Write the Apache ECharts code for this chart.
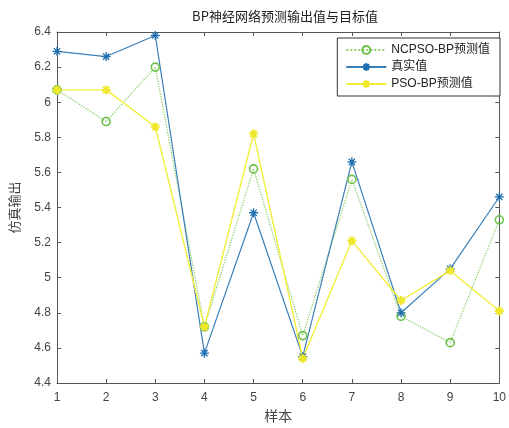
<!DOCTYPE html>
<html><head><meta charset="utf-8">
<script src="https://cdn.jsdelivr.net/npm/echarts@6/dist/echarts.min.js"></script>
<style>html,body{margin:0;padding:0;background:#fff}#c{width:509px;height:428px}</style>
</head><body><div id="c"></div>
<script>
const samples = [1,2,3,4,5,6,7,8,9,10];
const ncpsoValues = [6.07,5.89,6.20,4.72,5.62,4.67,5.56,4.78,4.63,5.33];
const realValues  = [6.29,6.26,6.38,4.57,5.37,4.55,5.66,4.80,5.05,5.46];
const psoValues   = [6.07,6.07,5.86,4.72,5.82,4.54,5.21,4.87,5.04,4.81];
const seriesNames = ['NCPSO-BP预测值','真实值','PSO-BP预测值'];

const star = 'path://M0,-5L0,5M-5,0L5,0M-3.5,-3.5L3.5,3.5M-3.5,3.5L3.5,-3.5';
const pairs = v => samples.map((s,i)=>[s,v[i]]);
const font = 'Liberation Sans, Arial, sans-serif';
const axisLine = {show:true, lineStyle:{color:'#555', width:1}};
const chart = echarts.init(document.getElementById('c'));
chart.setOption({
  animation:false,
  backgroundColor:'#fff',
  title:{text:'BP神经网络预测输出值与目标值', left:280, textAlign:'center', top:5,
    textStyle:{fontSize:13, fontWeight:'normal', color:'#222', fontFamily:'Noto Sans CJK SC, sans-serif'}},
  grid:{left:57, right:6, top:32, bottom:45},
  legend:{
    data:seriesNames, orient:'vertical', right:9, top:38,
    backgroundColor:'#fff', borderColor:'#333', borderWidth:1, borderRadius:0,
    padding:[6,10,6,8], itemGap:5, itemWidth:40, itemHeight:10,
    textStyle:{fontSize:12, color:'#222', fontFamily:'Liberation Sans, Noto Sans CJK SC, sans-serif'}
  },
  xAxis:[{
    type:'value', min:1, max:10, interval:1, name:'样本', nameLocation:'middle', nameGap:24,
    nameTextStyle:{fontSize:14, color:'#444', fontFamily:'Noto Sans CJK SC, sans-serif'},
    axisLine:axisLine, axisTick:{show:true, inside:true, length:4, lineStyle:{color:'#555'}},
    axisLabel:{fontSize:12, color:'#444', margin:9, fontFamily:font},
    splitLine:{show:false}
  },{
    type:'value', position:'top', min:1, max:10, interval:1,
    axisLine:axisLine, axisTick:{show:true, inside:true, length:4, lineStyle:{color:'#555'}},
    axisLabel:{show:false}, splitLine:{show:false}
  }],
  yAxis:[{
    type:'value', min:4.4, max:6.4, interval:0.2, name:'仿真输出', nameLocation:'middle', nameGap:36,
    nameTextStyle:{fontSize:13, color:'#444', fontFamily:'Noto Sans CJK SC, sans-serif'},
    axisLine:axisLine, axisTick:{show:true, inside:true, length:4, lineStyle:{color:'#555'}},
    axisLabel:{fontSize:12, color:'#444', margin:6, fontFamily:font},
    splitLine:{show:false}
  },{
    type:'value', position:'right', min:4.4, max:6.4, interval:0.2,
    axisLine:axisLine, axisTick:{show:true, inside:true, length:4, lineStyle:{color:'#555'}},
    axisLabel:{show:false}, splitLine:{show:false}
  }],
  series:[
    {name:seriesNames[0], type:'line', data:pairs(ncpsoValues), symbol:'circle', symbolSize:8, showSymbol:true,
      lineStyle:{color:'#8fd070', width:1.3, type:'dotted'},
      itemStyle:{color:'rgba(255,255,255,0)', borderColor:'#6cc04a', borderWidth:1.6}},
    {name:seriesNames[1], type:'line', data:pairs(realValues), symbol:star, symbolSize:9,
      lineStyle:{color:'#3a7fb8', width:1.2},
      itemStyle:{color:'#1f6fb0', borderColor:'#1f6fb0', borderWidth:1.3}},
    {name:seriesNames[2], type:'line', data:pairs(psoValues), symbol:star, symbolSize:9,
      lineStyle:{color:'#f2ee3c', width:1.4},
      itemStyle:{color:'#efe82a', borderColor:'#efe82a', borderWidth:2}}
  ]
});
</script></body></html>
